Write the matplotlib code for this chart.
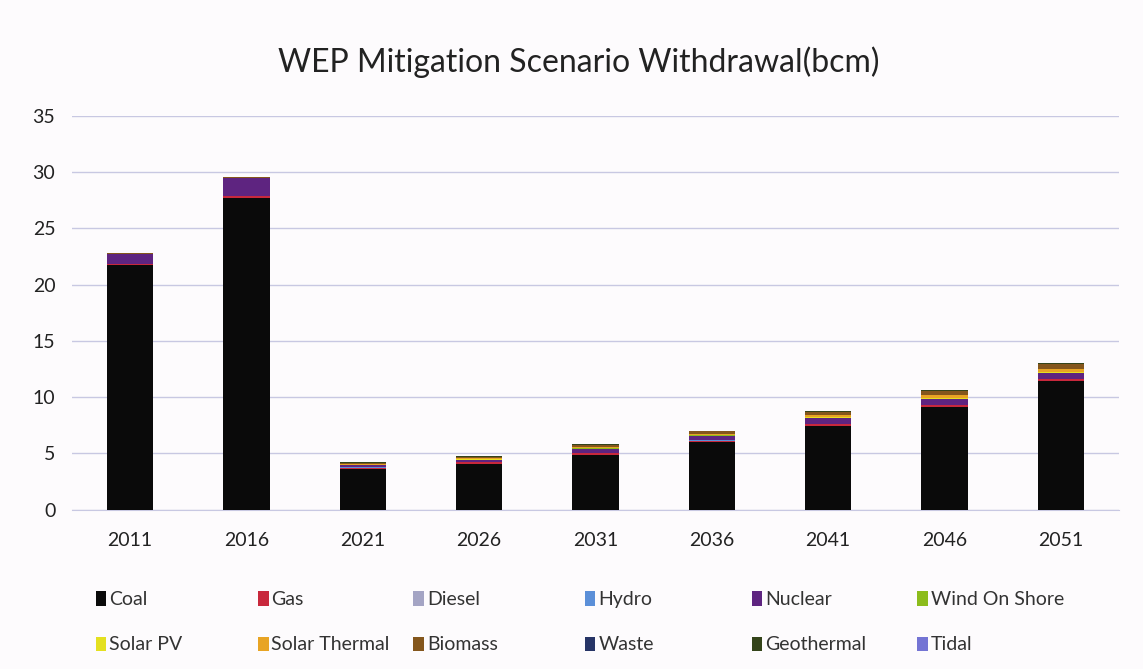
import matplotlib
matplotlib.use('Agg')
import matplotlib.pyplot as plt
import numpy as np
from matplotlib.patches import Patch

plt.rcParams['font.family'] = ['Lato', 'DejaVu Sans']

years = ['2011', '2016', '2021', '2026', '2031', '2036', '2041', '2046', '2051']

# withdrawal by source (bcm)
coal = [21.7, 27.7, 3.6, 4.1, 4.9, 6.0, 7.45, 9.15, 11.45]
gas = [0.15, 0.15, 0.15, 0.15, 0.15, 0.15, 0.15, 0.15, 0.15]
diesel = [0.0, 0.0, 0.0, 0.0, 0.0, 0.0, 0.0, 0.0, 0.0]
hydro = [0.02, 0.02, 0.02, 0.02, 0.02, 0.02, 0.02, 0.02, 0.02]
nuclear = [0.85, 1.6, 0.2, 0.15, 0.35, 0.4, 0.5, 0.5, 0.5]
wind_on_shore = [0.02, 0.02, 0.03, 0.04, 0.05, 0.05, 0.05, 0.06, 0.06]
solar_pv = [0.02, 0.02, 0.02, 0.03, 0.03, 0.03, 0.03, 0.04, 0.04]
solar_thermal = [0.0, 0.0, 0.04, 0.08, 0.1, 0.12, 0.18, 0.25, 0.3]
biomass = [0.05, 0.05, 0.1, 0.12, 0.15, 0.2, 0.28, 0.35, 0.4]
waste = [0.0, 0.0, 0.01, 0.01, 0.02, 0.02, 0.02, 0.02, 0.03]
geothermal = [0.0, 0.0, 0.03, 0.05, 0.05, 0.05, 0.07, 0.08, 0.1]
tidal = [0.0, 0.0, 0.0, 0.0, 0.0, 0.0, 0.0, 0.0, 0.0]

series = [
    ('Coal', coal, '#0a0a0a'),
    ('Gas', gas, '#c8283c'),
    ('Diesel', diesel, '#a4a4c4'),
    ('Hydro', hydro, '#5b8fd8'),
    ('Nuclear', nuclear, '#5e2480'),
    ('Wind On Shore', wind_on_shore, '#8cbc1c'),
    ('Solar PV', solar_pv, '#e4e020'),
    ('Solar Thermal', solar_thermal, '#e8a424'),
    ('Biomass', biomass, '#84561c'),
    ('Waste', waste, '#263466'),
    ('Geothermal', geothermal, '#34441a'),
    ('Tidal', tidal, '#7474d4'),
]

fig = plt.figure(figsize=(11.43, 6.69), dpi=100)
fig.patch.set_facecolor('#fdfbfd')
ax = fig.add_axes([0.063, 0.238, 0.916, 0.589])
ax.set_facecolor('#fdfbfd')

x = np.arange(len(years))
bottom = np.zeros(len(years))
for name, vals, col in series:
    ax.bar(x, vals, 0.40, bottom=bottom, color=col, zorder=3)
    bottom += np.array(vals)

ax.set_xlim(-0.5, len(years) - 0.5)
ax.set_ylim(0, 35)
ax.set_yticks(range(0, 36, 5))
ax.set_xticks(x)
ax.set_xticklabels(years)
ax.yaxis.grid(True, color='#c8c8e2', linewidth=1)
ax.set_axisbelow(True)
for s in ['top', 'right', 'left']:
    ax.spines[s].set_visible(False)
ax.spines['bottom'].set_color('#c8c8e2')
ax.tick_params(axis='both', length=0, labelsize=14, colors='#222222')
ax.tick_params(axis='x', pad=16)
ax.tick_params(axis='y', pad=12)

fig.suptitle('WEP Mitigation Scenario Withdrawal(bcm)', x=0.506, y=0.93,
             fontsize=23, color='#222222')

# legend: one small legend per column so the columns sit where they do in the picture
handles = [Patch(facecolor=c, label=n) for n, v, c in series]
col_x = [0.070, 0.212, 0.348, 0.498, 0.644, 0.789]
for i, cx in enumerate(col_x):
    pair = [handles[i], handles[i + 6]]
    fig.legend(pair, [h.get_label() for h in pair], loc='lower left',
               bbox_to_anchor=(cx, 0.0), frameon=False, fontsize=14,
               handlelength=0.55, handleheight=0.75, handletextpad=0.15,
               labelspacing=1.45, borderpad=0.3, labelcolor='#333333')

fig.savefig('out.png', dpi=100, facecolor=fig.get_facecolor())
